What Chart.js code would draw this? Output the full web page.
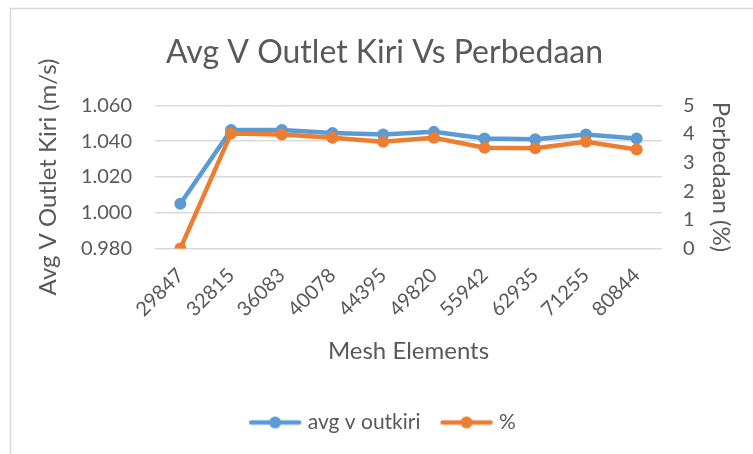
<!DOCTYPE html>
<html>
<head>
<meta charset="utf-8">
<script src="https://cdn.jsdelivr.net/npm/chart.js@4/dist/chart.umd.min.js"></script>
<style>
  html, body { margin: 0; padding: 0; background: #ffffff; }
  #wrap { width: 753px; height: 454px; position: relative; }
</style>
</head>
<body>
<div id="wrap"><canvas id="chart" width="753" height="454"></canvas></div>
<script>
// Mesh sizes on the category axis
const meshElements = ['29847', '32815', '36083', '40078', '44395', '49820', '55942', '62935', '71255', '80844'];
// Average outlet velocity, left outlet (m/s)
const avgVOutKiri = [1.005, 1.0462, 1.0462, 1.0446, 1.0437, 1.0452, 1.0415, 1.0411, 1.0437, 1.0415];
// Difference (%)
const perbedaan = [0.0, 4.02, 3.98, 3.87, 3.73, 3.87, 3.52, 3.50, 3.73, 3.46];
// Axis tick values
const leftTicks = [0.98, 1.00, 1.02, 1.04, 1.06];
const rightTicks = [0, 1, 2, 3, 4, 5];

const BLUE = '#5B9BD5';
const ORANGE = '#ED7D31';
const TEXT = '#595959';
const GRID = '#d9d9d9';
const FONT = 'Lato, "Open Sans", sans-serif';

// Legend swatch: a short line with a round marker in the middle
function lineMarker(color) {
  const c = document.createElement('canvas');
  c.width = 54; c.height = 14;
  const g = c.getContext('2d');
  g.strokeStyle = color; g.lineWidth = 4.5; g.lineCap = 'round';
  g.beginPath(); g.moveTo(3, 7); g.lineTo(51, 7); g.stroke();
  g.fillStyle = color;
  g.beginPath(); g.arc(27, 7, 6, 0, Math.PI * 2); g.fill();
  return c;
}
const swatches = [lineMarker(BLUE), lineMarker(ORANGE)];

// White card with a thin frame on the top and left edges
const framePlugin = {
  id: 'frame',
  beforeDraw(chart) {
    const ctx = chart.ctx;
    ctx.save();
    ctx.fillStyle = '#ffffff';
    ctx.fillRect(0, 0, chart.width, chart.height);
    ctx.strokeStyle = GRID;
    ctx.lineWidth = 1.5;
    ctx.beginPath();
    ctx.moveTo(10.5, chart.height);
    ctx.lineTo(10.5, 8.5);
    ctx.lineTo(chart.width, 8.5);
    ctx.stroke();
    ctx.restore();
  }
};

new Chart(document.getElementById('chart'), {
  type: 'line',
  data: {
    labels: meshElements,
    datasets: [
      {
        label: 'avg v outkiri',
        data: avgVOutKiri,
        yAxisID: 'y',
        borderColor: BLUE,
        backgroundColor: BLUE,
        borderWidth: 4.5,
        pointRadius: 6,
        pointBorderWidth: 0,
        pointHoverRadius: 6,
        tension: 0,
        order: 1
      },
      {
        label: '%',
        data: perbedaan,
        yAxisID: 'y1',
        borderColor: ORANGE,
        backgroundColor: ORANGE,
        borderWidth: 4.5,
        pointRadius: 6,
        pointBorderWidth: 0,
        pointHoverRadius: 6,
        tension: 0,
        order: 0
      }
    ]
  },
  options: {
    responsive: false,
    animation: false,
    devicePixelRatio: 1,
    layout: { padding: { left: 34, right: 18, top: 0, bottom: 11 } },
    plugins: {
      tooltip: { enabled: false },
      title: {
        display: true,
        text: 'Avg V Outlet Kiri Vs Perbedaan',
        color: TEXT,
        font: { family: FONT, size: 32, weight: 'normal' },
        padding: { top: 33, bottom: 34 }
      },
      legend: {
        position: 'bottom',
        labels: {
          color: TEXT,
          font: { family: FONT, size: 21 },
          usePointStyle: true,
          pointStyleWidth: 44,
          padding: 24,
          generateLabels(chart) {
            return chart.data.datasets.map((ds, i) => ({
              text: ds.label,
              fillStyle: ds.backgroundColor,
              strokeStyle: ds.borderColor,
              fontColor: TEXT,
              lineWidth: 0,
              pointStyle: swatches[i],
              hidden: false,
              datasetIndex: i
            }));
          }
        }
      }
    },
    scales: {
      x: {
        type: 'category',
        offset: true,
        grid: { display: false, drawTicks: false },
        border: { display: false },
        ticks: {
          color: TEXT,
          font: { family: FONT, size: 20 },
          minRotation: 45,
          maxRotation: 45,
          autoSkip: false,
          padding: 15
        },
        title: {
          display: true,
          text: 'Mesh Elements',
          color: TEXT,
          font: { family: FONT, size: 24 },
          padding: { top: 0, bottom: 22 }
        },
        afterFit(scale) { scale.height = 139.5; }
      },
      y: {
        position: 'left',
        min: 0.98,
        max: 1.06,
        afterBuildTicks(scale) { scale.ticks = leftTicks.map(v => ({ value: v })); },
        grid: { color: GRID, lineWidth: 1.5, drawTicks: false },
        border: { display: false },
        ticks: {
          color: TEXT,
          font: { family: FONT, size: 20 },
          padding: 23,
          callback: v => Number(v).toFixed(3)
        },
        title: {
          display: true,
          text: 'Avg V Outlet Kiri (m/s)',
          color: TEXT,
          font: { family: FONT, size: 24 },
          padding: 0
        },
        afterFit(scale) { scale.width = 121; }
      },
      y1: {
        position: 'right',
        min: 0,
        max: 5,
        afterBuildTicks(scale) { scale.ticks = rightTicks.map(v => ({ value: v })); },
        grid: { drawOnChartArea: false, drawTicks: false },
        border: { display: false },
        ticks: {
          color: TEXT,
          font: { family: FONT, size: 20 },
          padding: 21,
          callback: v => String(v)
        },
        title: {
          display: true,
          text: 'Perbedaan (%)',
          color: TEXT,
          font: { family: FONT, size: 24 },
          padding: 0
        },
        afterFit(scale) { scale.width = 73; }
      }
    }
  },
  plugins: [framePlugin]
});
</script>
</body>
</html>
